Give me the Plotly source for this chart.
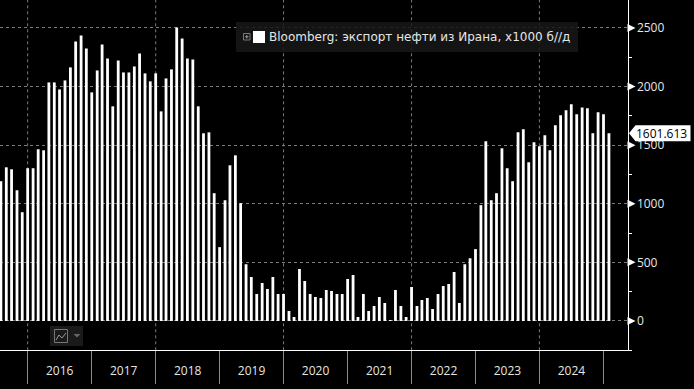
import pandas as pd
import plotly.graph_objects as go

W, H = 694, 389
RIGHT, BOTTOM = 627.5, 350.3

v2015 = [1192, 1311, 1294, 1115, 928]
v2016 = [1303, 1303, 1465, 1456, 2035, 2035, 1975, 2052, 2163, 2384, 2435, 2325]
v2017 = [1950, 2137, 2359, 2240, 1831, 2222, 2120, 2120, 2171, 2282, 2112, 2044]
v2018 = [2112, 1788, 2069, 2146, 2503, 2410, 2240, 2231, 1831, 1601, 1609, 1090]
v2019 = [630, 1030, 1328, 1413, 1005, 485, 375, 230, 324, 272, 375, 230]
v2020 = [230, 85, 34, 443, 341, 230, 204, 196, 264, 255, 230, 230]
v2021 = [358, 392, 34, 230, 85, 128, 204, 153, 2, 264, 128, 34]
v2022 = [290, 128, 179, 196, 102, 230, 298, 315, 417, 153, 485, 536]
v2023 = [613, 988, 1533, 1030, 1090, 1473, 1303, 1192, 1609, 1635, 1354, 1524]
v2024 = [1490, 1584, 1456, 1669, 1754, 1797, 1848, 1763, 1822, 1814, 1601, 1780]
v2025 = [1763, 1601.613]
values = v2015 + v2016 + v2017 + v2018 + v2019 + v2020 + v2021 + v2022 + v2023 + v2024 + v2025
months = pd.date_range("2015-08-01", periods=len(values), freq="MS")

y_ticks = [0, 500, 1000, 1500, 2000, 2500]
grid_years = ["2016-01-01", "2018-01-01", "2020-01-01", "2022-01-01", "2024-01-01"]
legend_text = "Bloomberg: экспорт нефти из Ирана, x1000 б//д"
last_label = "1601.613"

FONT = "Open Sans"
TXT = "#e6e6e6"
GRID = "#7a7a7a"


def px(x):
    return x / W


def py(y):
    return 1 - y / H


def rect(x0, y0, x1, y1, **kw):
    return dict(type="rect", xref="paper", yref="paper", x0=px(x0), x1=px(x1),
                y0=py(y0), y1=py(y1), layer="above", **kw)


def poly(points, **kw):
    d = "M " + " L ".join(f"{px(a):.5f} {py(b):.5f}" for a, b in points)
    return dict(type="path", xref="paper", yref="paper", path=d, layer="above", **kw)


shapes = []
for g in grid_years:
    shapes.append(dict(type="line", xref="x", yref="paper", x0=g, x1=g, y0=py(BOTTOM), y1=1,
                       layer="below", line=dict(color=GRID, width=1, dash="3px,3px")))

for t in y_ticks:
    shapes.append(dict(type="path", xref="paper", yref="y", xanchor=px(RIGHT), yanchor=t,
                       xsizemode="pixel", ysizemode="pixel", path="M 0 -4 L 8 0 L 0 4 Z",
                       fillcolor="white", line=dict(width=0), layer="above"))

# legend box
shapes.append(rect(236, 22, 578, 52, fillcolor="rgba(24,24,24,0.85)", line=dict(width=0)))
shapes.append(rect(243.5, 33.5, 250, 40, fillcolor="rgba(0,0,0,0)", line=dict(color="#777", width=1)))
shapes.append(poly([(245, 36.8), (248.5, 36.8)], line=dict(color="#999", width=1)))
shapes.append(poly([(246.8, 35), (246.8, 38.5)], line=dict(color="#999", width=1)))
shapes.append(rect(253, 31, 265, 43, fillcolor="white", line=dict(width=0)))

# chart-type button
shapes.append(rect(50, 326, 83, 346, fillcolor="#1a1a1a", line=dict(width=0)))
shapes.append(rect(54.5, 329.5, 67.5, 342.5, fillcolor="rgba(0,0,0,0)", line=dict(color="#777", width=1)))
shapes.append(poly([(56, 340), (59, 335), (62, 338), (66, 333)], line=dict(color="#999", width=1)))
shapes.append(poly([(73.5, 334), (80.5, 334), (77, 337.5), (73.5, 334)], fillcolor="#666", line=dict(width=0)))

# last value tag
shapes.append(dict(type="path", xref="paper", yref="y", xanchor=px(RIGHT), yanchor=values[-1],
                   xsizemode="pixel", ysizemode="pixel",
                   path="M 1.5 0 L 8 -8 L 63 -8 L 63 8 L 8 8 Z",
                   fillcolor="white", line=dict(width=0), layer="above"))

annotations = [
    dict(xref="paper", yref="paper", x=px(267), y=py(37), xanchor="left", yanchor="middle",
         text=legend_text, showarrow=False, font=dict(family="DejaVu Sans", size=12, color=TXT)),
    dict(xref="paper", yref="y", x=px(661), y=values[-1], xanchor="center", yanchor="middle",
         text=last_label, showarrow=False, font=dict(family=FONT, size=12, color="black")),
]

fig = go.Figure(go.Bar(x=months, y=values, width=16 * 86400000,
                       marker=dict(color="white", line=dict(width=0)), hoverinfo="skip"))

fig.update_layout(
    width=W, height=H, margin=dict(l=0, r=0, t=0, b=0),
    paper_bgcolor="black", plot_bgcolor="black", showlegend=False,
    font=dict(family=FONT, size=12, color=TXT),
    shapes=shapes, annotations=annotations,
    xaxis=dict(type="date", domain=[0, px(RIGHT)], range=["2015-07-27", "2025-05-18"],
               dtick="M12", tick0="2016-01-01", ticklabelmode="period", tickformat="%Y",
               ticks="outside", ticklen=33, tickcolor="#8a8a8a", tickwidth=1,
               ticklabelstandoff=-24, showgrid=False, zeroline=False,
               showline=True, linecolor="white", linewidth=1,
               tickfont=dict(family=FONT, size=12, color=TXT)),
    yaxis=dict(domain=[py(BOTTOM), 1], range=[-250, 2738], side="right",
               tickvals=y_ticks, ticks="outside", ticklen=6, tickcolor="black",
               showgrid=True, gridcolor=GRID, griddash="3px,3px", gridwidth=1, zeroline=False,
               showline=True, linecolor="white", linewidth=1,
               minor=dict(dtick=250, ticks="outside", ticklen=3, tickcolor="white", tickwidth=1, showgrid=False),
               tickfont=dict(family=FONT, size=12, color=TXT)),
)

fig.write_html("out.html", config=dict(displayModeBar=False),
               post_script="document.body.style.margin='0';document.documentElement.style.overflow='hidden';")
